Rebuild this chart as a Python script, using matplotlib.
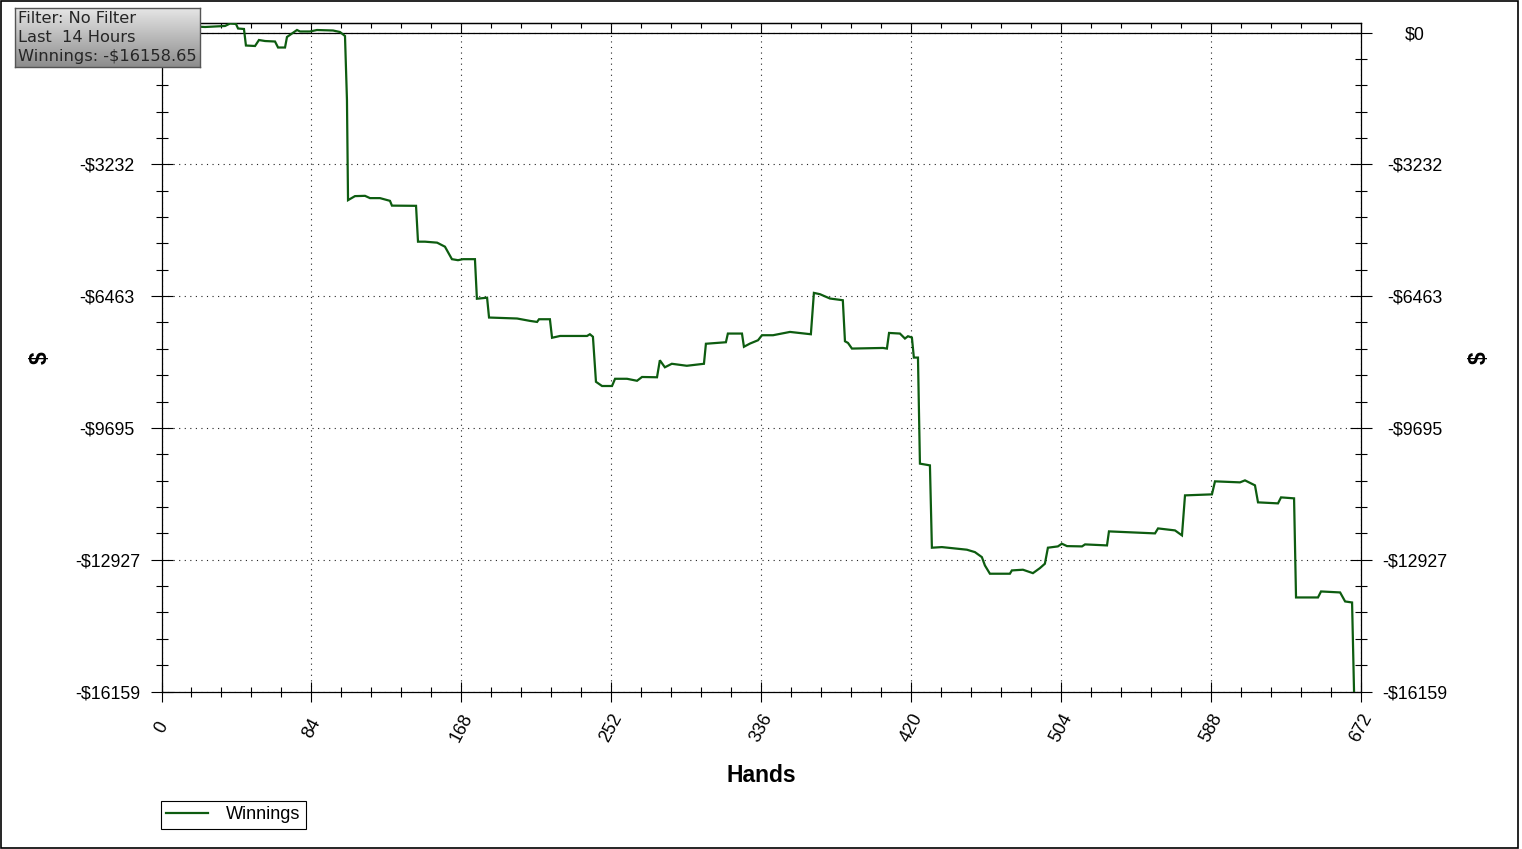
import numpy as np
import matplotlib
matplotlib.use("Agg")
import matplotlib.pyplot as plt
from matplotlib.ticker import FixedLocator, AutoMinorLocator
from matplotlib.lines import Line2D
from matplotlib.patches import Rectangle

# ---------------- data ----------------
hands = [0, 12.0, 24.4, 35.6, 38.4, 41.7, 42.9, 46.2, 47.3, 52.4, 54.6, 58.0, 63.6, 65.3, 69.2,
         70.3, 75.9, 77.6, 83.2, 87.1, 96.1, 100.0, 102.8, 103.9, 104.5, 108.4, 114.0, 116.8,
         122.4, 128.0, 129.1, 142.6, 143.7, 147.6, 154.4, 158.8, 162.7, 166.1, 168.9, 175.6,
         176.7, 182.4, 183.5, 199.2, 206.5, 210.4, 211.5, 217.6, 218.8, 223.3, 238.4, 240.0,
         241.7, 243.4, 246.8, 252.4, 254.1, 260.8, 266.4, 269.2, 277.6, 279.2, 282.0, 285.9,
         294.3, 303.9, 305.0, 316.2, 317.3, 325.2, 326.3, 329.7, 334.2, 336.4, 342.6, 352.1,
         363.8, 365.5, 368.9, 374.5, 381.7, 382.9, 384.6, 386.8, 404.2, 406.4, 407.6, 413.7,
         416.5, 418.2, 420.4, 421.5, 423.8, 424.9, 430.5, 431.6, 437.2, 451.2, 455.7, 459.6,
         461.3, 464.1, 475.3, 476.4, 482.6, 488.2, 492.1, 494.9, 496.6, 502.2, 504.4, 507.3,
         515.7, 517.4, 529.7, 530.8, 556.6, 558.3, 567.8, 571.7, 573.4, 588.5, 590.2, 604.2,
         607.0, 612.6, 614.3, 625.5, 627.2, 634.5, 635.6, 647.9, 649.6, 660.3, 663.1, 667.0,
         668.1]
winnings = [184, 160, 135, 160, 220, 210, 98, 86, -319, -331, -184, -209, -221, -368, -368,
            -110, 61, 25, 25, 61, 49, 12, -86, -1656, -4111, -4012, -4005, -4061,
            -4061, -4128, -4245, -4250, -5129, -5129, -5153, -5252, -5558, -5583, -5558, -5558,
            -6528, -6503, -6989, -7013, -7072, -7097, -7031, -7031, -7485, -7441, -7441, -7399,
            -7460, -8565, -8668, -8668, -8491, -8491, -8540, -8447, -8454, -8037, -8209, -8123,
            -8172, -8123, -7632, -7595, -7382, -7382, -7706, -7627, -7546, -7423, -7423, -7342,
            -7399, -6385, -6417, -6523, -6565, -7571, -7612, -7750, -7735, -7750, -7367, -7382,
            -7504, -7448, -7480, -7971, -7971, -10572, -10614, -12633, -12618, -12682, -12741, -12864,
            -13068, -13271, -13271, -13190, -13173, -13257, -13134, -13026, -12633, -12601, -12535, -12594,
            -12601, -12552, -12577, -12233, -12282, -12160, -12209, -12331, -11350, -11325, -11006, -11031,
            -10982, -11104, -11521, -11546, -11399, -11423, -13853, -13853, -13706, -13730, -13951, -13976,
            -16158.65]

x_ticks = [0, 84, 168, 252, 336, 420, 504, 588, 672]
y_ticks = [0, -3232, -6463, -9695, -12927, -16159]
y_labels = ["$0", "-$3232", "-$6463", "-$9695", "-$12927", "-$16159"]
info_lines = ["Filter: No Filter", "Last  14 Hours", "Winnings: -$16158.65"]
series_name = "Winnings"

# ---------------- figure ----------------
W, H = 1522, 849
fig = plt.figure(figsize=(W / 100, H / 100), dpi=100)
fig.patch.set_facecolor("white")

def fx(px):
    return px / W

def fy(py):
    return 1 - py / H

ax_left, ax_right, ax_top, ax_bot = 161.5, 1361, 23, 691.5
ax = fig.add_axes([fx(ax_left), fy(ax_bot), fx(ax_right - ax_left), (ax_bot - ax_top) / H])

LINE_COLOR = "#0d5c10"
ax.plot(hands, winnings, color=LINE_COLOR, lw=1.6, solid_joinstyle="miter", zorder=3)
ax.axhline(0, color="black", lw=0.9, zorder=2)

ax.set_xlim(0, 672)
ax.set_ylim(-16159, 233)

ax.xaxis.set_major_locator(FixedLocator(x_ticks))
ax.xaxis.set_minor_locator(AutoMinorLocator(5))
ax.set_xticklabels([str(t) for t in x_ticks])
ax.yaxis.set_major_locator(FixedLocator(y_ticks))
minor_y = []
for a, b in zip(y_ticks[:-1], y_ticks[1:]):
    minor_y += list(np.linspace(a, b, 6)[1:-1])
ax.yaxis.set_minor_locator(FixedLocator(minor_y))
ax.set_yticklabels(y_labels)

ax.tick_params(axis="x", which="major", direction="inout", length=14.4, width=0.8,
               pad=19, labelsize=12.8, labelrotation=62, top=False)
ax.tick_params(axis="x", which="minor", direction="inout", length=7.2, width=0.8, top=False)
ax.tick_params(axis="y", which="major", direction="inout", length=16, width=0.8,
               pad=31, labelsize=12.8, left=True, right=True, labelleft=True, labelright=True)
ax.tick_params(axis="y", which="minor", direction="inout", length=8.5, width=0.8,
               left=True, right=True)

for t in ax.xaxis.get_major_ticks():
    t.label1.set_va("center")
    t.label1.set_family("Liberation Sans")
for t in ax.yaxis.get_major_ticks():
    for lab in (t.label1, t.label2):
        lab.set_ha("center")
        lab.set_family("Liberation Sans")
# the left "$0" label sits under the info box in the original
ax.yaxis.get_major_ticks()[0].label1.set_visible(False)

# top ticks pointing inward
sec = ax.secondary_xaxis("top")
sec.xaxis.set_major_locator(FixedLocator(x_ticks))
sec.xaxis.set_minor_locator(AutoMinorLocator(5))
sec.tick_params(axis="x", which="major", direction="in", length=7.2, width=0.8, labeltop=False)
sec.tick_params(axis="x", which="minor", direction="in", length=3.6, width=0.8)
sec.spines["top"].set_linewidth(0.9)

for s in ax.spines.values():
    s.set_linewidth(0.9)
    s.set_color("black")

ax.grid(True, which="major", color="#222222", lw=0.8, linestyle=(0, (1, 4)))

ax.set_xlabel("Hands", fontsize=16.5, fontweight="bold", family="Liberation Sans", labelpad=14)
fig.text(fx(40), fy(358), "$", rotation=90, fontsize=16.5, fontweight="bold",
         family="Liberation Sans", ha="center", va="center")
fig.text(fx(1479), fy(358), "$", rotation=90, fontsize=16.5, fontweight="bold",
         family="Liberation Sans", ha="center", va="center")

# legend
leg = fig.legend([Line2D([0], [0], color=LINE_COLOR, lw=1.6)], [series_name],
                 loc="upper left", bbox_to_anchor=(fx(161), fy(801)), borderaxespad=0,
                 frameon=True, fancybox=False, edgecolor="black", framealpha=1,
                 prop=dict(family="Liberation Sans", size=13), handlelength=2.3,
                 handletextpad=1.0, borderpad=0.3)
leg.get_frame().set_linewidth(0.8)

# info box with gradient
bx0, by0, bx1, by1 = 15, 8, 200, 67
axb = fig.add_axes([fx(bx0), fy(by1), fx(bx1 - bx0), (by1 - by0) / H])
grad = np.linspace(0, 1, 100).reshape(-1, 1)
top_c = np.array([0.90, 0.90, 0.90])
bot_c = np.array([0.55, 0.55, 0.55])
img = top_c[None, None, :] * (1 - grad[:, :, None]) + bot_c[None, None, :] * grad[:, :, None]
axb.imshow(img, aspect="auto", extent=(0, 1, 0, 1), origin="upper")
axb.set_xlim(0, 1)
axb.set_ylim(0, 1)
axb.set_xticks([])
axb.set_yticks([])
for s in axb.spines.values():
    s.set_color("#555555")
    s.set_linewidth(1)
for i, line in enumerate(info_lines):
    ypx = 18.5 + 19 * i
    axb.text(3 / (bx1 - bx0), 1 - (ypx - by0) / (by1 - by0), line, transform=axb.transAxes,
             fontsize=11.7, family="DejaVu Sans", color="#262626", ha="left", va="center")

# figure border
fig.add_artist(Rectangle((fx(0.5), fy(848)), fx(1517.5), (848 - 0.5) / H, transform=fig.transFigure,
                         fill=False, edgecolor="black", lw=1.2))

fig.savefig("out.png", dpi=100)
